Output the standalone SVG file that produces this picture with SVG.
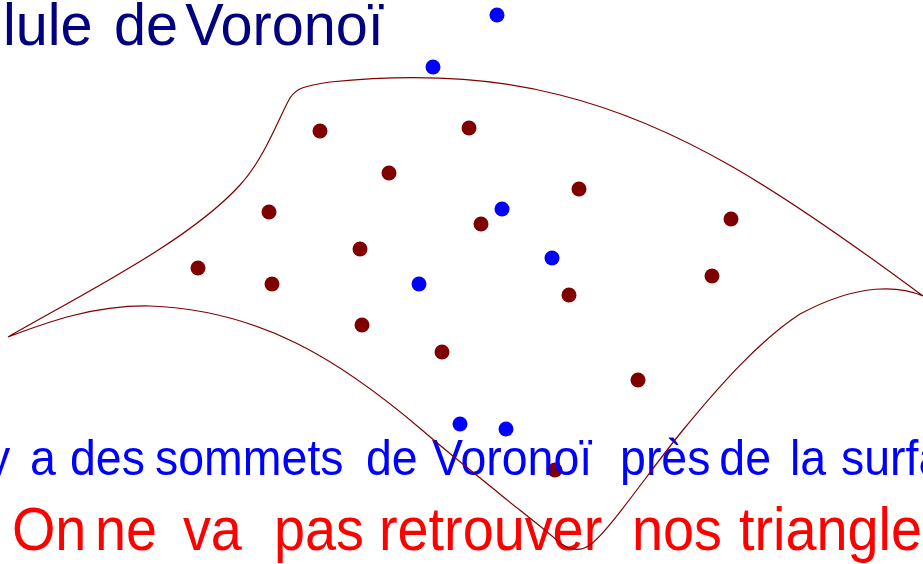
<svg xmlns="http://www.w3.org/2000/svg" width="923" height="564" viewBox="0 0 923 564">
<style>
.s{fill:none;stroke:#800000;stroke-width:1.2}
.r{fill:#800000}
.b{fill:#0000ff}
.t{font-family:"Liberation Sans",Arial,sans-serif}
</style>
<rect width="923" height="564" fill="#fff"/>
<g id="red-points" class="r">
<circle cx="320" cy="131" r="7.5"/><circle cx="469" cy="128" r="7.5"/><circle cx="389" cy="173" r="7.5"/>
<circle cx="579" cy="189" r="7.5"/><circle cx="269" cy="212" r="7.5"/><circle cx="481" cy="224" r="7.5"/>
<circle cx="731" cy="219" r="7.5"/><circle cx="360" cy="249" r="7.5"/><circle cx="198" cy="268" r="7.5"/>
<circle cx="272" cy="284" r="7.5"/><circle cx="712" cy="276" r="7.5"/><circle cx="569" cy="295" r="7.5"/>
<circle cx="362" cy="325" r="7.5"/><circle cx="442" cy="352" r="7.5"/><circle cx="638" cy="380" r="7.5"/>
<circle cx="555" cy="470" r="7.5"/>
</g>
<g id="blue-points" class="b">
<circle cx="497" cy="15" r="7.5"/><circle cx="433" cy="67" r="7.5"/><circle cx="502" cy="209" r="7.5"/>
<circle cx="552" cy="258" r="7.5"/><circle cx="419" cy="284" r="7.5"/><circle cx="460" cy="424" r="7.5"/>
<circle cx="506" cy="429" r="7.5"/>
</g>
<text class="t" fill="#000080" font-size="60" y="45" transform="scale(0.96,1)"><tspan x="3.1">lule</tspan> <tspan x="118.7">de</tspan> <tspan x="193">Voronoï</tspan></text>
<text class="t" fill="#0000ff" font-size="50" y="475" transform="scale(0.93,1)"><tspan x="-14">y</tspan> <tspan x="32.3">a</tspan> <tspan x="75.3">des</tspan> <tspan x="166.7">sommets</tspan> <tspan x="393.5">de</tspan> <tspan x="464.5">Voronoï</tspan> <tspan x="666.7">près</tspan> <tspan x="773.5">de</tspan> <tspan x="849.5">la</tspan> <tspan x="904.3">surfa</tspan></text>
<text class="t" fill="#ff0000" font-size="62" y="550" transform="scale(0.9,1)"><tspan x="13.3">On</tspan> <tspan x="105.6">ne</tspan> <tspan x="203.3">va</tspan> <tspan x="304.4">pas</tspan> <tspan x="421.1">retrouver</tspan> <tspan x="702.2">nos</tspan> <tspan x="821.1">triangle</tspan></text>
<path id="surface" class="s" d="M8 337 C90 290 190 240 240 185 C265 158 280 115 290 98 C296 88 305 86 330 82 C400 75 480 74 560 95 C680 125 780 190 923 296 C900 286 860 282 800 314 C760 340 720 385 683 430 C650 470 610 530 590 545 C580 552 570 550 560 543 C540 525 515 507 495 490 C470 470 445 450 422 430 C340 360 260 310 150 306 C90 305 40 325 8 337 Z"/>
</svg>
